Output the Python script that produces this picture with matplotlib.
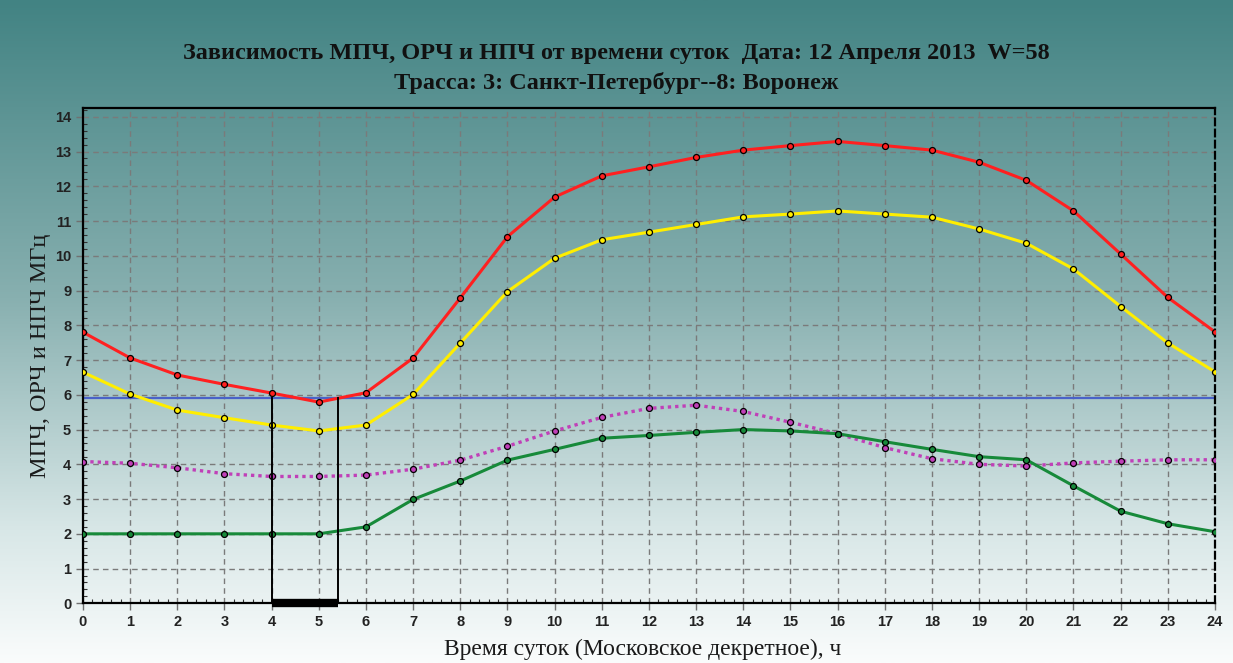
"""Зависимость МПЧ, ОРЧ и НПЧ от времени суток (трасса Санкт-Петербург -- Воронеж)."""
import numpy as np
import matplotlib
matplotlib.use("Agg")
import matplotlib.pyplot as plt
from matplotlib.colors import LinearSegmentedColormap
from matplotlib.ticker import MultipleLocator

hours = list(range(25))

# МПЧ (red)
mpch = [7.80, 7.06, 6.57, 6.30, 6.05, 5.79, 6.06, 7.06, 8.79, 10.55, 11.69, 12.30,
        12.56, 12.83, 13.04, 13.17, 13.29, 13.17, 13.04, 12.69, 12.17, 11.29, 10.05,
        8.80, 7.81]
# ОРЧ (yellow)
orch = [6.65, 6.02, 5.56, 5.34, 5.13, 4.96, 5.13, 6.01, 7.49, 8.97, 9.93, 10.46,
        10.68, 10.90, 11.12, 11.20, 11.29, 11.20, 11.11, 10.77, 10.36, 9.62, 8.54,
        7.49, 6.66]
# dotted magenta curve
npch_dot = [4.08, 4.03, 3.90, 3.73, 3.65, 3.65, 3.69, 3.86, 4.12, 4.52, 4.96, 5.35,
            5.61, 5.70, 5.52, 5.21, 4.88, 4.48, 4.16, 4.00, 3.95, 4.04, 4.09,
            4.13, 4.13]
# НПЧ (green)
npch = [2.00, 2.00, 2.00, 2.00, 2.00, 2.00, 2.20, 2.99, 3.52, 4.12, 4.43, 4.75,
        4.83, 4.92, 5.00, 4.96, 4.88, 4.65, 4.43, 4.22, 4.13, 3.38, 2.65, 2.29, 2.06]

level = 5.9            # horizontal blue line
window = (4.0, 5.4)    # marked interval on the time axis

title1 = "Зависимость МПЧ, ОРЧ и НПЧ от времени суток  Дата: 12 Апреля 2013  W=58"
title2 = "Трасса: 3: Санкт-Петербург--8: Воронеж"

fig = plt.figure(figsize=(12.33, 6.63), dpi=100)

# background gradient over whole figure
bg = fig.add_axes([0, 0, 1, 1], zorder=-10)
cmap = LinearSegmentedColormap.from_list(
    "bg", [(0.0, "#428383"), (0.45, "#88b0b0"), (0.8, "#d8e7e7"), (1.0, "#fafcfc")])
bg.imshow(np.linspace(0, 1, 256).reshape(-1, 1), aspect="auto", cmap=cmap,
          extent=[0, 1, 0, 1])
bg.set_axis_off()

ax = fig.add_axes([0.0673, 0.090, 0.9181, 0.747])
ax.set_facecolor("none")
ax.set_xlim(0, 24)
ax.set_ylim(0, 14.25)

ax.xaxis.set_major_locator(MultipleLocator(1))
ax.yaxis.set_major_locator(MultipleLocator(1))
ax.xaxis.set_minor_locator(MultipleLocator(0.2))
ax.yaxis.set_minor_locator(MultipleLocator(0.2))
ax.grid(which="major", color="#7a7a7a", linestyle=(0, (4, 3)), linewidth=1.0)
ax.set_axisbelow(True)

for s in ("left", "top", "bottom"):
    ax.spines[s].set_linewidth(1.6)
    ax.spines[s].set_color("black")
ax.spines["right"].set_linestyle((0, (3, 2)))
ax.spines["right"].set_linewidth(1.6)

ax.tick_params(which="major", direction="out", length=5, width=1, color="#707070",
               labelsize=10.5, labelcolor="#222222")
ax.tick_params(axis="x", which="major", pad=3.5)
ax.tick_params(which="minor", direction="in", length=3, width=0.8, color="#333333")
for lab in ax.get_xticklabels() + ax.get_yticklabels():
    lab.set_fontfamily("Liberation Sans")
    lab.set_fontweight("bold")

ax.axhline(level, color="#4a62c8", linewidth=1.6, zorder=2)

mk = dict(marker="o", markersize=4.3, markeredgecolor="black", markeredgewidth=0.9)
ax.plot(hours, npch_dot, color="#c040b8", linestyle=(0, (1, 1.2)), linewidth=2.4,
        markerfacecolor="#c040b8", zorder=3, **mk)
ax.plot(hours, npch, color="#178a3a", linewidth=2.2, markerfacecolor="#178a3a",
        zorder=4, **mk)
ax.plot(hours, orch, color="#ffee00", linewidth=2.2, markerfacecolor="#ffee00",
        zorder=4, **mk)
ax.plot(hours, mpch, color="#ff2020", linewidth=2.2, markerfacecolor="#ff2020",
        zorder=5, **mk)

for xv in window:
    ax.plot([xv, xv], [0, level], color="black", linewidth=1.4, zorder=6)
ax.plot(window, [0, 0], color="black", linewidth=6, solid_capstyle="butt",
        clip_on=False, zorder=7)

ax.set_xlabel("Время суток (Московское декретное), ч", family="Liberation Serif",
              fontsize=17, color="#1a1a1a")
ax.xaxis.set_label_coords(0.494, -0.072)
ax.set_ylabel("МПЧ, ОРЧ и НПЧ МГц", family="Liberation Serif", fontsize=17.5,
              color="#1a1a1a")
ax.yaxis.set_label_coords(-0.028, 0.5)

fig.text(0.5, 0.92, title1, ha="center", va="center", family="Liberation Serif",
         fontweight="bold", fontsize=17.5, color="#111111")
fig.text(0.5, 0.875, title2, ha="center", va="center", family="Liberation Serif",
         fontweight="bold", fontsize=17.5, color="#111111")

fig.savefig("out.png", dpi=100)
